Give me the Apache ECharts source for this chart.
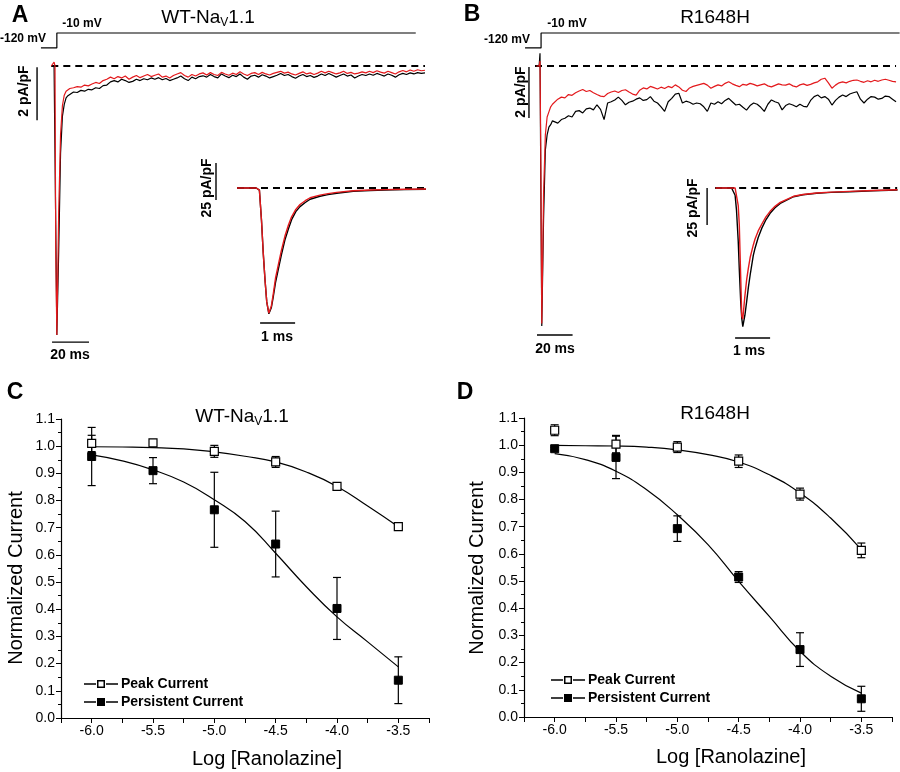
<!DOCTYPE html>
<html><head><meta charset="utf-8">
<script src="https://cdn.jsdelivr.net/npm/echarts@6/dist/echarts.min.js"></script>
<style>html,body{margin:0;padding:0;background:#fff}#c{width:900px;height:772px}</style>
</head><body><div id="c"></div>
<script>
// ---------- Panel A / B : current traces (time in ms, current in pA/pF) ----------
const T = [-2,-0.5,0,0.4,1,2,3,4,5,6,7,8,
 10,12,14,16,18,20,22,24,26,28,30,32,34,36,38,40,42,44,46,48,50,52,54,56,58,60,62,64,66,68,70,72,74,76,78,80,
 82,84,86,88,90,92,94,96,98,100,102,104,106,108,110,112,114,116,118,120,122,124,126,128,130,132,134,136,138,140,
 142,144,146,148,150,152,154,156,158,160,162,164,166,168,170,172,174,176,178,180,182,184,186,188,190,192,194,196,198,200];
const wtBlack = [0,0,0,-6,-10.15,-7.0,-3.3,-1.9,-1.45,-1.2,-1.12,-1.05,
 -0.98,-1.0,-0.92,-0.95,-0.88,-0.9,-0.82,-0.85,-0.74,-0.72,-0.6,-0.55,-0.6,-0.5,-0.55,-0.62,-0.58,-0.5,-0.55,-0.48,-0.52,-0.45,-0.5,-0.44,-0.52,-0.47,-0.55,-0.5,-0.45,-0.38,-0.48,-0.55,-0.42,-0.48,-0.4,-0.37,
 -0.42,-0.32,-0.4,-0.45,-0.3,-0.38,-0.44,-0.35,-0.4,-0.3,-0.42,-0.5,-0.38,-0.35,-0.42,-0.33,-0.38,-0.45,-0.4,-0.35,-0.28,-0.36,-0.32,-0.4,-0.46,-0.38,-0.32,-0.4,-0.36,-0.43,
 -0.38,-0.3,-0.36,-0.28,-0.35,-0.42,-0.36,-0.3,-0.38,-0.34,-0.45,-0.38,-0.32,-0.36,-0.3,-0.35,-0.28,-0.33,-0.38,-0.3,-0.35,-0.42,-0.33,-0.28,-0.32,-0.26,-0.3,-0.25,-0.28,-0.26];
const wtRed = [0,0.15,0,-7,-10.15,-5.5,-2.6,-1.5,-1.1,-0.95,-0.88,-0.85,
 -0.82,-0.78,-0.8,-0.72,-0.75,-0.68,-0.62,-0.66,-0.55,-0.5,-0.42,-0.48,-0.4,-0.45,-0.38,-0.5,-0.42,-0.36,-0.44,-0.38,-0.32,-0.4,-0.35,-0.3,-0.42,-0.38,-0.45,-0.36,-0.3,-0.25,-0.36,-0.42,-0.32,-0.38,-0.3,-0.26,
 -0.34,-0.25,-0.32,-0.36,-0.24,-0.3,-0.35,-0.27,-0.32,-0.22,-0.3,-0.36,-0.28,-0.25,-0.32,-0.24,-0.3,-0.34,-0.28,-0.24,-0.2,-0.27,-0.23,-0.3,-0.34,-0.28,-0.22,-0.3,-0.26,-0.32,
 -0.27,-0.2,-0.26,-0.2,-0.25,-0.3,-0.26,-0.2,-0.28,-0.24,-0.3,-0.27,-0.22,-0.26,-0.2,-0.25,-0.18,-0.23,-0.27,-0.2,-0.25,-0.3,-0.22,-0.17,-0.22,-0.15,-0.2,-0.14,-0.18,-0.16];
const mutBlack = [0,0,0.5,-4,-10.2,-6,-3.3,-2.7,-2.4,-2.3,-2.15,-2.2,
 -2.24,-2.1,-2.05,-1.95,-2.0,-1.78,-1.75,-1.84,-1.68,-1.65,-1.72,-1.52,-1.7,-2.1,-1.45,-1.4,-1.33,-1.22,-1.35,-1.52,-1.42,-1.38,-1.3,-1.25,-1.35,-1.32,-1.2,-1.38,-1.45,-1.6,-1.78,-1.4,-1.27,-1.1,-1.07,-1.45,
 -1.38,-1.42,-1.5,-1.45,-1.48,-1.6,-1.78,-1.45,-1.5,-1.4,-1.48,-1.35,-1.27,-1.4,-1.53,-1.5,-1.62,-1.73,-1.55,-1.45,-1.5,-1.62,-1.78,-1.5,-1.33,-1.4,-1.45,-1.72,-1.55,-1.48,
 -1.53,-1.6,-1.5,-1.58,-1.6,-1.35,-1.2,-1.14,-1.25,-1.2,-1.3,-1.53,-1.35,-1.22,-1.14,-1.2,-1.1,-1.05,-1.01,-1.3,-1.45,-1.3,-1.2,-1.22,-1.3,-1.27,-1.18,-1.2,-1.3,-1.4];
const mutRed = [0,0,0.2,-3,-10.1,-5,-2.7,-2.0,-1.8,-1.6,-1.5,-1.45,
 -1.3,-1.22,-1.25,-1.12,-1.15,-1.05,-0.98,-0.92,-1.0,-0.96,-1.05,-1.12,-1.18,-1.2,-1.08,-1.02,-0.98,-1.04,-0.96,-0.93,-1.02,-1.1,-1.14,-0.95,-0.86,-0.9,-0.8,-0.85,-0.9,-0.83,-0.88,-0.8,-0.85,-0.74,-0.82,-0.95,
 -1.0,-0.86,-0.8,-0.76,-0.72,-0.68,-0.75,-0.87,-0.8,-0.74,-0.78,-0.68,-0.62,-0.7,-0.76,-0.81,-0.72,-0.75,-0.68,-0.72,-0.78,-0.74,-0.7,-0.78,-0.82,-0.76,-0.7,-0.74,-0.75,-0.7,
 -0.78,-0.82,-0.74,-0.7,-0.76,-0.72,-0.66,-0.62,-0.52,-0.48,-0.66,-0.87,-0.75,-0.66,-0.62,-0.66,-0.6,-0.56,-0.55,-0.6,-0.64,-0.58,-0.62,-0.56,-0.6,-0.55,-0.52,-0.56,-0.6,-0.62];

// insets: peak currents (time in ms, current in pA/pF)
const TIA = [-0.6,-0.05,0.04,0.1,0.15,0.2,0.25,0.31,0.38,0.44,0.5,0.58,0.67,0.77,0.87,0.96,1.08,1.2,1.35,1.49,1.77,2.0,2.25,2.72,3.2,3.62,4.2,4.8];
const wtInsetBlack = [0,0,-1.4,-22,-44,-62,-77,-85,-81,-73,-64,-55,-45,-35,-27.5,-21.4,-16,-12.6,-9.8,-7.6,-5.6,-4.5,-3.6,-2.2,-1.7,-1.35,-1.1,-0.9];
const wtInsetRed   = [0,0,-1.4,-22,-44,-62,-77,-84.5,-80,-71,-61,-52,-42,-32.5,-25,-19.5,-14.5,-11.2,-8.6,-6.6,-4.8,-3.8,-3.0,-1.9,-1.4,-1.1,-0.9,-0.7];
const TIB = [-0.5,-0.04,0.06,0.1,0.15,0.18,0.22,0.25,0.28,0.34,0.39,0.44,0.49,0.58,0.63,0.72,0.82,0.94,1.06,1.2,1.35,1.73,2.0,2.39,2.8,3.34,4.0,4.7];
const mutInsetBlack = [0,0,-4.9,-15,-36.3,-55,-76.8,-88,-93.7,-86,-76.8,-67,-58.8,-45.5,-40.7,-33.5,-27.3,-21.5,-17.1,-13.4,-10.4,-5.9,-4.6,-3.6,-3.0,-2.5,-1.9,-1.4];
const mutInsetRed   = [0,0,0,-1,-12,-25,-60,-86.5,-88.5,-72.9,-62,-54,-47,-38.5,-34.5,-29,-24.5,-19.5,-15.8,-12.4,-9.7,-5.6,-4.4,-3.4,-2.8,-2.3,-1.7,-1.2];

// voltage protocol (ms, mV)
const protoA = [[-7.6,-120],[1,-120],[1,-10],[195,-10]];
const protoB = [[-8.4,-120],[0.6,-120],[0.6,-10],[202,-10]];

// ---------- Panel C / D : concentration-response ----------
const logConc = [-6.0,-5.5,-5.0,-4.5,-4.0,-3.5];
const wtPeak = [1.01,1.012,0.981,0.942,0.852,0.704];
const wtPeakErr = [0.03,0.005,0.022,0.02,0.008,0.006];
const wtPers = [0.962,0.91,0.766,0.64,0.403,0.139];
const wtPersErr = [0.107,0.048,0.138,0.121,0.114,0.086];
const mutPeak = [1.055,1.004,0.993,0.941,0.82,0.613];
const mutPeakErr = [0.02,0.032,0.02,0.023,0.022,0.027];
const mutPers = [0.987,0.955,0.693,0.515,0.248,0.067];
const mutPersErr = [0.005,0.078,0.047,0.02,0.062,0.046];

const fitX = [-6.0,-5.75,-5.5,-5.25,-5.0,-4.75,-4.5,-4.25,-4.0,-3.75,-3.5];
const wtPeakFit = [0.998,0.997,0.995,0.99,0.979,0.963,0.942,0.905,0.852,0.78,0.704];
const wtPersFit = [0.968,0.946,0.913,0.868,0.803,0.723,0.606,0.483,0.372,0.28,0.188];
const mutPeakFit = [0.999,0.998,0.997,0.993,0.983,0.965,0.938,0.891,0.824,0.732,0.616];
const mutPersFit = [0.969,0.947,0.904,0.836,0.744,0.634,0.499,0.37,0.242,0.15,0.088];

const xTicks = [-6.0,-5.5,-5.0,-4.5,-4.0,-3.5];

// ---------- build ----------
const FONT = '"Liberation Sans", Arial, sans-serif';
const RED = '#e3191c';
const zip = (xs, ys) => xs.map((x, i) => [x, ys[i]]);
const errData = (xs, m, e) => xs.map((x, i) => [x, m[i] - e[i], m[i] + e[i]]);

function hiddenAxes(min, max, idx) { return {type:'value', min, max, show:false, gridIndex: idx}; }

const grids = [
  {left:32.8, top:30, width:392.2, height:20},      // 0 A protocol
  {left:32.8, top:50.1, width:392.2, height:296.8}, // 1 A trace
  {left:202, top:149.5, width:231, height:198.3},   // 2 A inset
  {left:522.2, top:30, width:377.4, height:20},     // 3 B protocol
  {left:522.2, top:48.15, width:377.4, height:293.25}, // 4 B trace
  {left:691, top:149.5, width:208.25, height:198.3}, // 5 B inset
  {left:61, top:419, width:368, height:299},        // 6 C
  {left:524, top:418, width:368, height:299}        // 7 D
];
const xAxes = [
  hiddenAxes(-12,200,0), hiddenAxes(-12,200,1), hiddenAxes(-1.6,5,2),
  hiddenAxes(-10,202,3), hiddenAxes(-10,202,4), hiddenAxes(-1.2,4.75,5)
];
const yAxes = [
  hiddenAxes(-135,12,0), hiddenAxes(-10.6,0.6,1), hiddenAxes(-108,26,2),
  hiddenAxes(-135,12,3), hiddenAxes(-10.8,0.7,4), hiddenAxes(-108,26,5)
];
function doseX(idx) {
  return {type:'value', gridIndex:idx, min:-6.25, max:-3.25, interval:0.25,
    axisLine:{onZero:false, lineStyle:{color:'#000', width:1.2}},
    axisTick:{length:5, lineStyle:{color:'#000', width:1}},
    splitLine:{show:false},
    axisLabel:{color:'#000', fontFamily:FONT, fontSize:14, margin:6,
      formatter: v => { const m = xTicks.find(t => Math.abs(t - v) < 1e-6); return m === undefined ? '' : m.toFixed(1); }}};
}
function doseY(idx) {
  return {type:'value', gridIndex:idx, min:0, max:1.1, interval:0.1,
    axisLine:{show:true, lineStyle:{color:'#000', width:1.2}},
    axisTick:{show:true, length:5, lineStyle:{color:'#000', width:1}},
    minorTick:{show:true, splitNumber:2, length:3, lineStyle:{color:'#000', width:1}},
    splitLine:{show:false},
    axisLabel:{color:'#000', fontFamily:FONT, fontSize:14, margin:6, formatter: v => v.toFixed(1)}};
}
xAxes.push(doseX(6), doseX(7));
yAxes.push(doseY(6), doseY(7));

const series = [];
function line(data, xi, color, width, extra) {
  series.push(Object.assign({type:'line', xAxisIndex:xi, yAxisIndex:xi, data, symbol:'none',
    silent:true, lineStyle:{color, width}, itemStyle:{color}}, extra || {}));
}
const dashed = {lineStyle:{color:'#000', width:2, type:[7,5]}};

// Panel A
line(protoA, 0, '#000', 1.2);
line([[-2,0],[200,0]], 1, '#000', 2, dashed);
line(zip(T, wtBlack), 1, '#000', 1.2);
line(zip(T, wtRed), 1, RED, 1.2);
line([[-1.6,-10.42],[18.4,-10.42]], 1, '#000', 1.4);   // 20 ms bar
line([[-9.7,-0.05],[-9.7,-2.05]], 1, '#000', 1.4);      // 2 pA/pF bar
line([[-0.6,0],[4.83,0]], 2, '#000', 2, dashed);
line(zip(TIA, wtInsetBlack), 2, '#000', 1.4);
line(zip(TIA, wtInsetRed), 2, RED, 1.4);
line([[0.06,-91.2],[1.06,-91.2]], 2, '#000', 1.4);      // 1 ms bar
line([[-1.2,16.9],[-1.2,-8.1]], 2, '#000', 1.4);        // 25 pA/pF bar
// Panel B
line(protoB, 3, '#000', 1.2);
line([[-2.8,0],[200,0]], 4, '#000', 2, dashed);
line(zip(T, mutBlack), 4, '#000', 1.2);
line(zip(T, mutRed), 4, RED, 1.2);
line([[-1.7,-10.55],[18.3,-10.55]], 4, '#000', 1.4);
line([[-6.2,-0.04],[-6.2,-2.04]], 4, '#000', 1.4);
line([[-0.51,0],[4.69,0]], 5, '#000', 2, dashed);
line(zip(TIB, mutInsetBlack), 5, '#000', 1.4);
line(zip(TIB, mutInsetRed), 5, RED, 1.4);
line([[0.06,-101.4],[1.06,-101.4]], 5, '#000', 1.4);
line([[-0.74,0],[-0.74,-25]], 5, '#000', 1.4);

// Panels C/D
function errSeries(data, xi) {
  series.push({type:'custom', xAxisIndex:xi, yAxisIndex:xi, data, silent:true, z:3,
    renderItem: (params, api) => {
      const x = api.value(0);
      const a = api.coord([x, api.value(1)]), b = api.coord([x, api.value(2)]);
      const st = {stroke:'#000', lineWidth:1.2};
      return {type:'group', children:[
        {type:'line', shape:{x1:a[0], y1:a[1], x2:b[0], y2:b[1]}, style:st},
        {type:'line', shape:{x1:a[0]-4, y1:a[1], x2:a[0]+4, y2:a[1]}, style:st},
        {type:'line', shape:{x1:b[0]-4, y1:b[1], x2:b[0]+4, y2:b[1]}, style:st}]};
    }});
}
function dosePanel(xi, peak, peakErr, pers, persErr, peakFit, persFit) {
  series.push({type:'line', name:'Peak fit', xAxisIndex:xi, yAxisIndex:xi, data:zip(fitX, peakFit), symbol:'none', smooth:0.5, silent:true, lineStyle:{color:'#000', width:1.2}, z:2});
  series.push({type:'line', name:'Persistent fit', xAxisIndex:xi, yAxisIndex:xi, data:zip(fitX, persFit), symbol:'none', smooth:0.5, silent:true, lineStyle:{color:'#000', width:1.2}, z:2});
  errSeries(errData(logConc, pers, persErr), xi);
  errSeries(errData(logConc, peak, peakErr), xi);
  series.push({type:'scatter', name:'Persistent Current', xAxisIndex:xi, yAxisIndex:xi, data:zip(logConc, pers), symbol:'rect', symbolSize:8, itemStyle:{color:'#000', borderColor:'#000', borderWidth:1, opacity:1}, z:5});
  series.push({type:'scatter', name:'Peak Current', xAxisIndex:xi, yAxisIndex:xi, data:zip(logConc, peak), symbol:'rect', symbolSize:8, itemStyle:{color:'#fff', borderColor:'#000', borderWidth:1.2, opacity:1}, z:6});
}
dosePanel(6, wtPeak, wtPeakErr, wtPers, wtPersErr, wtPeakFit, wtPersFit);
dosePanel(7, mutPeak, mutPeakErr, mutPers, mutPersErr, mutPeakFit, mutPersFit);

const iconOpen = 'path://M0,3.2h12v1.6h-12z M13,0h8v1.5h-8z M13,6.5h8v1.5h-8z M13,0h1.5v8h-1.5z M19.5,0h1.5v8h-1.5z M22,3.2h12v1.6h-12z';
const iconFill = 'path://M0,3.2h12v1.6h-12z M13,0h8v8h-8z M22,3.2h12v1.6h-12z';
function legendAt(left, top) {
  return {left, top, orient:'vertical', itemGap:4, itemWidth:34, itemHeight:8, selectedMode:false,
    textStyle:{fontFamily:FONT, fontWeight:'bold', fontSize:14, color:'#000', padding:[0,0,0,-2]},
    data:[{name:'Peak Current', icon:iconOpen, itemStyle:{color:'#000', borderWidth:0, opacity:1}},
          {name:'Persistent Current', icon:iconFill, itemStyle:{color:'#000', borderWidth:0, opacity:1}}]};
}

function txt(x, y, text, size, bold, extra) {
  return Object.assign({type:'text', x, y, silent:true,
    style:{text, fontFamily:FONT, fontSize:size, fontWeight: bold ? 'bold' : 'normal', fill:'#000', align:'center', verticalAlign:'middle'}}, extra || {});
}
function vtxt(x, y, text, size, bold) { return txt(x, y, text, size, bold, {rotation: Math.PI/2}); }
function navTitle(x, y) {
  return {type:'text', x, y, silent:true, style:{text:'WT-Na{s|V}1.1', fontFamily:FONT, fontSize:19, fill:'#000', align:'center', verticalAlign:'middle',
    rich:{s:{fontFamily:FONT, fontSize:12, fill:'#000', padding:[9,0,0,0]}}}};
}

const graphic = [
  txt(20, 16, 'A', 23, true), txt(472, 15, 'B', 23, true), txt(15, 393, 'C', 23, true), txt(465, 393, 'D', 23, true),
  navTitle(208, 18), txt(715, 18, 'R1648H', 19, false),
  navTitle(242, 417), txt(715, 414, 'R1648H', 19, false),
  txt(23, 39, '-120 mV', 12, true), txt(82, 24, '-10 mV', 12, true),
  txt(507, 40, '-120 mV', 12, true), txt(567, 24, '-10 mV', 12, true),
  vtxt(24, 91, '2 pA/pF', 14, true), vtxt(521, 92, '2 pA/pF', 14, true),
  vtxt(207, 188, '25 pA/pF', 14, true), vtxt(693, 208, '25 pA/pF', 14, true),
  txt(70, 355, '20 ms', 14, true), txt(555, 349, '20 ms', 14, true),
  txt(277, 337, '1 ms', 14, true), txt(749, 351, '1 ms', 14, true),
  vtxt(16, 578, 'Normalized Current', 20, false), vtxt(477, 568, 'Normalized Current', 20, false),
  txt(267, 759, 'Log [Ranolazine]', 20, false), txt(731, 757, 'Log [Ranolazine]', 20, false)
];

const chart = echarts.init(document.getElementById('c'), null, {renderer:'canvas'});
chart.setOption({
  animation:false, backgroundColor:'#fff',
  textStyle:{fontFamily:FONT},
  grid:grids, xAxis:xAxes, yAxis:yAxes, series,
  legend:[legendAt(79, 672), legendAt(546, 668)],
  graphic
});
</script></body></html>
